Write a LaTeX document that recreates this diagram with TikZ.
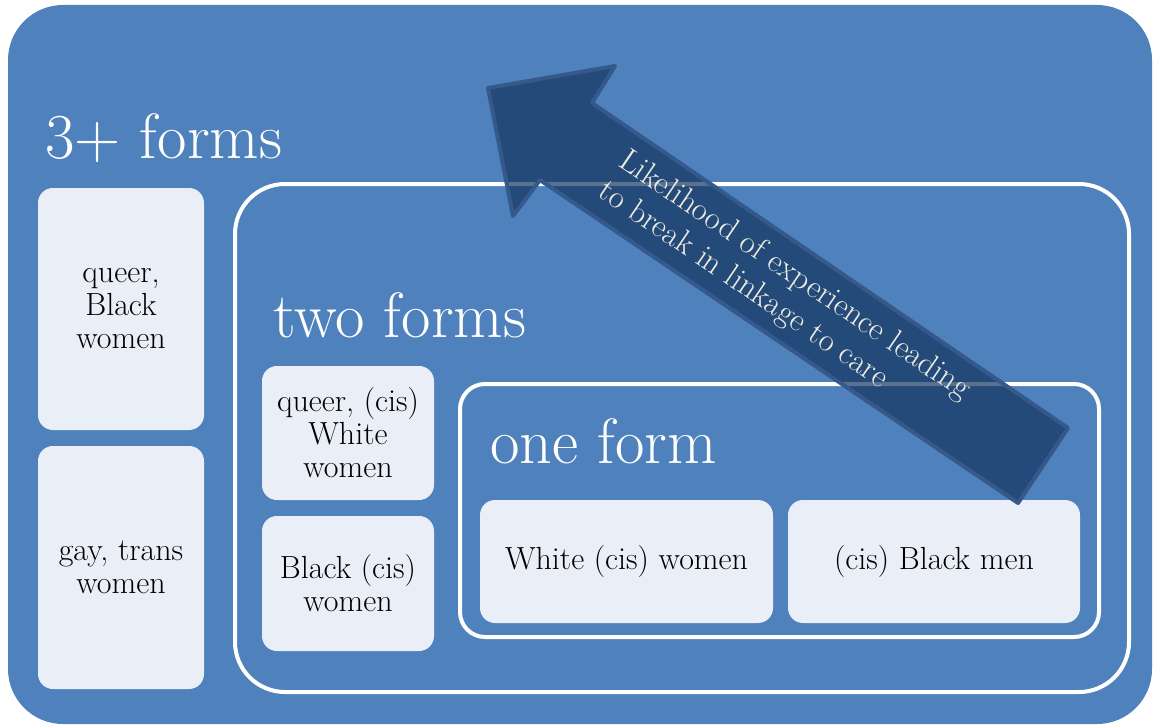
\documentclass[tikz,border=0pt]{standalone}
\usepackage{fontspec}
\definecolor{bgblue}{HTML}{4F81BD}
\definecolor{lightbox}{HTML}{EAEFF7}
\definecolor{arrowfill}{HTML}{244A7A}
\definecolor{arrowline}{HTML}{35598A}
\definecolor{arrowshine}{HTML}{59708E}
\definecolor{arrowtext}{HTML}{EEECE1}
\tikzset{
  itembox/.style={fill=lightbox, rounded corners=15pt, inner sep=0pt, align=center,
    font=\fontsize{32}{33}\selectfont, text=black},
  frame/.style={draw=#1, line width=4pt, inner sep=0pt},
  title/.style={text=white, font=\fontsize{64}{64}\selectfont, anchor=base west, inner sep=0pt},
  arrowlabel/.style={text=arrowtext, font=\fontsize{32.5}{37}\selectfont, align=left, rotate=-34.2, inner sep=0pt}
}
\begin{document}
\begin{tikzpicture}[x=1pt,y=-1pt]
\useasboundingbox (0,0) rectangle (1153,725);
% outer panel
\node[fill=bgblue, rounded corners=55pt, minimum width=1144pt, minimum height=719pt, inner sep=0pt] (outer) at (580,364.5) {};
% frames
\node[frame=white, rounded corners=50pt, minimum width=894pt, minimum height=508pt] (twoframe) at (682,438) {};
\node[frame=white, rounded corners=25pt, minimum width=639pt, minimum height=253pt] (oneframe) at (779.5,510.5) {};
% titles
\node[title] (t3) at (45,158) {3+ forms};
\node[title] (t2) at (273,337) {two forms};
\node[title] (t1) at (490,463) {one form};
% boxes
\node[itembox, minimum width=166pt, minimum height=242pt] (qbw) at (121,309) {queer,\\Black\\women};
\node[itembox, minimum width=166pt, minimum height=243pt] (gtw) at (121,567.5) {gay, trans\\women};
\node[itembox, minimum width=172pt, minimum height=134pt] (qcww) at (348,433) {queer, (cis)\\White\\women};
\node[itembox, minimum width=172pt, minimum height=135pt] (bcw) at (348,583.5) {Black (cis)\\women};
\node[itembox, minimum width=293pt, minimum height=123pt] (wcw) at (626.5,561.5) {White (cis) women};
\node[itembox, minimum width=292pt, minimum height=123pt] (cbm) at (934,561.5) {(cis) Black men};
% arrow
\coordinate (tip) at (488,88);
\coordinate (barbA) at (615,66);
\coordinate (notchA) at (592,103);
\coordinate (tailA) at (1068,428);
\coordinate (tailB) at (1018,503);
\coordinate (notchB) at (540,180);
\coordinate (barbB) at (513,216);
\fill[arrowfill] (tip) -- (barbA) -- (notchA) -- (tailA) -- (tailB) -- (notchB) -- (barbB) -- cycle;
\begin{scope}
  \clip (tip) -- (barbA) -- (notchA) -- (tailA) -- (tailB) -- (notchB) -- (barbB) -- cycle;
  \node[frame=arrowshine, rounded corners=50pt, minimum width=894pt, minimum height=508pt] (twoshine) at (682,438) {};
  \node[frame=arrowshine, rounded corners=25pt, minimum width=639pt, minimum height=253pt] (oneshine) at (779.5,510.5) {};
\end{scope}
\draw[arrowline, line width=4pt, line join=round] (tip) -- (barbA) -- (notchA) -- (tailA) -- (tailB) -- (notchB) -- (barbB) -- cycle;
\node[arrowlabel] (alabel) at (784,291) {Likelihood of experience leading\\to break in linkage to care};
\end{tikzpicture}
\end{document}
